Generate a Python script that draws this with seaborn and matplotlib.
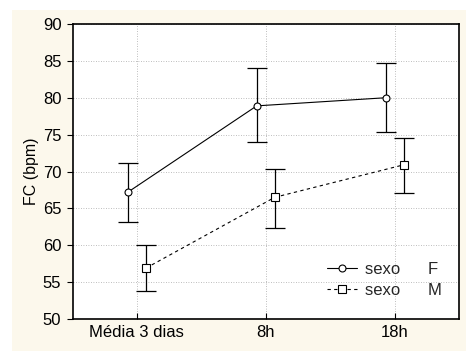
import matplotlib
matplotlib.use("Agg")
import matplotlib.pyplot as plt
import seaborn as sns
import pandas as pd
import numpy as np
from matplotlib.patches import Rectangle

categories = ["Média 3 dias", "8h", "18h"]
f_mean = [67.2, 78.9, 80.0]
f_low = [63.2, 74.0, 75.4]
f_high = [71.1, 84.0, 84.7]
m_mean = [56.9, 66.5, 70.9]
m_low = [53.8, 62.4, 67.1]
m_high = [60.1, 70.4, 74.5]
yticks = [50, 55, 60, 65, 70, 75, 80, 85, 90]

sns.set_theme(style="white")
plt.rcParams['font.family'] = ['Liberation Sans', 'DejaVu Sans']

fig = plt.figure(figsize=(4.76, 3.56), dpi=100, facecolor="white")
bg = Rectangle((12/476, 5/356), 454/476, 341/356, transform=fig.transFigure,
               facecolor="#fcf8ec", edgecolor="none", zorder=-10)
fig.add_artist(bg)
ax = fig.add_axes([72.5/476, 1-319/356, (459-72.5)/476, (319-24)/356])
ax.set_zorder(1)
ax.set_facecolor("white")

idx = np.arange(len(categories))
off = 0.07
rows = []
for i, c in enumerate(categories):
    rows.append(dict(x=i - off, y=f_mean[i], lo=f_low[i], hi=f_high[i], sexo="F"))
    rows.append(dict(x=i + off, y=m_mean[i], lo=m_low[i], hi=m_high[i], sexo="M"))
df = pd.DataFrame(rows)

styles = {"F": dict(ls="-", marker="o", ms=5), "M": dict(ls=(0, (3, 3)), marker="s", ms=5.5)}
for s, g in df.groupby("sexo"):
    st = styles[s]
    sns.lineplot(data=g, x="x", y="y", ax=ax, color="black", lw=0.8, linestyle=st["ls"],
                 marker=st["marker"], markersize=st["ms"], markerfacecolor="white",
                 markeredgecolor="black", markeredgewidth=0.8, label="sexo      " + s, zorder=3)
    ax.errorbar(g["x"], g["y"], yerr=[g["y"] - g["lo"], g["hi"] - g["y"]], fmt="none",
                ecolor="black", elinewidth=0.9, capsize=7, capthick=0.9, zorder=2)

ax.set_xlim(-0.5, 2.5)
ax.set_ylim(50, 90)
ax.set_xticks(idx)
ax.set_xticklabels(categories)
ax.set_yticks(yticks)
ax.grid(True, color="#a8a8a8", linestyle=(0, (1, 2)), linewidth=0.6)
ax.tick_params(axis="both", labelsize=12, colors="black", direction="in", length=4,
               width=0.8, right=True, top=False, left=True, bottom=True, pad=4)
ax.tick_params(axis="y", direction="out", left=True, right=False)
for sp in ax.spines.values():
    sp.set_color("black")
    sp.set_linewidth(1.2)
ax.set_xlabel("")
ax.set_ylabel("FC (bpm)", fontsize=11.5, color="black", labelpad=3)

leg = ax.legend(loc="lower right", bbox_to_anchor=(0.995, 0.02), frameon=False, fontsize=12,
                handlelength=1.8, handletextpad=0.5, labelspacing=0.35)
plt.savefig("out.png", dpi=100, facecolor="white")
